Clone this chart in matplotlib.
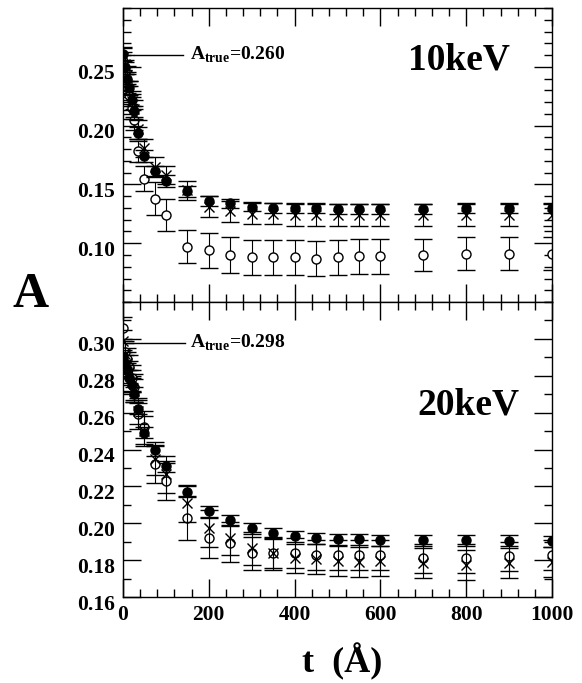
"""
Asymmetry A vs. thickness t for 10 keV and 20 keV.
"""

import matplotlib
matplotlib.use("Agg")
import matplotlib.pyplot as plt
import matplotlib.transforms as mtransforms
from matplotlib.ticker import MultipleLocator, FixedLocator


plt.rcParams["font.family"] = ["Liberation Serif", "DejaVu Serif"]
plt.rcParams["font.weight"] = "bold"
plt.rcParams["mathtext.fontset"] = "custom"
plt.rcParams["mathtext.rm"] = "Liberation Serif:bold"
plt.rcParams["mathtext.bf"] = "Liberation Serif:bold"

# thickness values (Angstrom)
t = [0, 5, 10, 15, 20, 25, 35, 50, 75, 100, 150, 200, 250, 300, 350, 400,
     450, 500, 550, 600, 700, 800, 900, 1000]

# 10 keV
a10_filled = [0.261, 0.250, 0.240, 0.232, 0.222, 0.212, 0.194, 0.174, 0.161,
              0.153, 0.144, 0.136, 0.134, 0.131, 0.130, 0.130, 0.130, 0.129,
              0.129, 0.129, 0.129, 0.130, 0.130, 0.130]
e10_filled = [0.006, 0.006, 0.006, 0.006, 0.005, 0.005, 0.005, 0.005, 0.005,
              0.005, 0.005, 0.004, 0.004, 0.004, 0.004, 0.004, 0.004, 0.004,
              0.004, 0.004, 0.004, 0.004, 0.004, 0.004]
a10_cross = [0.258, 0.252, 0.243, 0.230, 0.221, 0.214, 0.197, 0.181, 0.165,
             0.158, 0.145, 0.131, 0.127, 0.125, 0.125, 0.124, 0.124, 0.124,
             0.124, 0.124, 0.124, 0.124, 0.124, 0.124]
e10_cross = [0.008, 0.008, 0.008, 0.008, 0.008, 0.008, 0.008, 0.008, 0.008,
             0.008, 0.008, 0.009, 0.009, 0.009, 0.009, 0.009, 0.009, 0.009,
             0.009, 0.009, 0.009, 0.009, 0.009, 0.009]
a10_open = [0.255, 0.246, 0.236, 0.226, 0.215, 0.205, 0.178, 0.155, 0.138,
            0.124, 0.097, 0.094, 0.090, 0.088, 0.088, 0.088, 0.087, 0.088,
            0.089, 0.089, 0.090, 0.091, 0.091, 0.091]
e10_open = [0.008, 0.008, 0.008, 0.008, 0.009, 0.009, 0.009, 0.011, 0.014,
            0.014, 0.014, 0.015, 0.015, 0.015, 0.015, 0.015, 0.015, 0.015,
            0.015, 0.015, 0.014, 0.014, 0.014, 0.014]

# 20 keV
a20_filled = [0.290, 0.287, 0.283, 0.279, 0.275, 0.270, 0.262, 0.249, 0.2395,
              0.231, 0.217, 0.2065, 0.2016, 0.1973, 0.1946, 0.193, 0.1919,
              0.1913, 0.1913, 0.1908, 0.1908, 0.1908, 0.1905, 0.1903]
e20_filled = [0.004, 0.004, 0.004, 0.004, 0.004, 0.004, 0.003, 0.003, 0.003,
              0.003, 0.003, 0.003, 0.003, 0.003, 0.003, 0.003, 0.003, 0.003,
              0.003, 0.003, 0.003, 0.003, 0.003, 0.003]
a20_cross = [0.299, 0.292, 0.287, 0.282, 0.277, 0.272, 0.261, 0.250, 0.235,
             0.2265, 0.2108, 0.1973, 0.1919, 0.1865, 0.1838, 0.181, 0.1805,
             0.1795, 0.179, 0.1795, 0.1784, 0.1773, 0.1784, 0.179]
e20_cross = [0.006, 0.006, 0.006, 0.006, 0.006, 0.006, 0.007, 0.008, 0.009,
             0.010, 0.010, 0.010, 0.009, 0.009, 0.009, 0.008, 0.008, 0.008,
             0.008, 0.008, 0.008, 0.008, 0.008, 0.008]
a20_open = [0.306, 0.293, 0.289, 0.285, 0.279, 0.274, 0.259, 0.252, 0.232,
            0.2227, 0.2027, 0.1919, 0.1892, 0.1838, 0.1838, 0.184, 0.1827,
            0.1827, 0.1827, 0.1827, 0.181, 0.181, 0.182, 0.1827]
e20_open = [0.006, 0.006, 0.006, 0.006, 0.007, 0.007, 0.008, 0.009, 0.010,
            0.010, 0.012, 0.011, 0.010, 0.009, 0.008, 0.008, 0.008, 0.008,
            0.008, 0.008, 0.008, 0.008, 0.008, 0.008]

a_true = [0.260, 0.298]
energy_labels = ["10keV", "20keV"]


def plot_series(ax, y, err, marker, face):
    ax.errorbar(t, y, yerr=err, fmt=marker, color="k", mfc=face, mec="k",
                ms=6.5, mew=1.0, elinewidth=0.8, capsize=6.5, capthick=0.9,
                zorder=3 if face == "k" else 2)


def style_axes(ax, ylim, major, minor):
    ax.set_xlim(0, 1000)
    ax.set_ylim(*ylim)
    ax.xaxis.set_major_locator(MultipleLocator(200))
    ax.xaxis.set_minor_locator(MultipleLocator(40))
    ax.yaxis.set_major_locator(FixedLocator(major))
    ax.yaxis.set_minor_locator(MultipleLocator(minor))
    ax.tick_params(which="both", direction="in", top=True, right=True,
                   labelsize=15.5, pad=6, width=1.0)
    ax.tick_params(which="major", length=13)
    ax.tick_params(which="minor", length=6)
    for spine in ax.spines.values():
        spine.set_linewidth(1.0)


fig = plt.figure(figsize=(5.82, 6.83), dpi=100)
ax_top = fig.add_axes([0.2113, 0.5578, 0.7372, 0.4305])
ax_bot = fig.add_axes([0.2113, 0.1259, 0.7372, 0.4319], sharex=ax_top)

# top panel: 10 keV
plot_series(ax_top, a10_open, e10_open, "o", "white")
plot_series(ax_top, a10_cross, e10_cross, "x", "k")
plot_series(ax_top, a10_filled, e10_filled, "o", "k")
style_axes(ax_top, (0.05, 0.30), [0.10, 0.15, 0.20, 0.25], 0.01)
ax_top.tick_params(labelbottom=False)
ax_top.plot([25, 140], [a_true[0] + 0.0003] * 2, color="k", lw=1.0)
ax_top.text(156, a_true[0] + 0.0003, r"A$_{\rm true}$=0.260", fontsize=14,
            va="center", ha="left")
ax_top.text(0.902, 0.822, energy_labels[0], transform=ax_top.transAxes,
            fontsize=27, ha="right", va="center")

# bottom panel: 20 keV
plot_series(ax_bot, a20_open, e20_open, "o", "white")
plot_series(ax_bot, a20_cross, e20_cross, "x", "k")
plot_series(ax_bot, a20_filled, e20_filled, "o", "k")
style_axes(ax_bot, (0.16, 0.32),
           [0.16, 0.18, 0.20, 0.22, 0.24, 0.26, 0.28, 0.30], 0.01)
ax_bot.set_xticks([0, 200, 400, 600, 800, 1000])
ax_bot.plot([9, 145], [a_true[1]] * 2, color="k", lw=1.0)
ax_bot.text(156, a_true[1], r"A$_{\rm true}$=0.298", fontsize=14,
            va="center", ha="left")
ax_bot.text(0.925, 0.651, energy_labels[1], transform=ax_bot.transAxes,
            fontsize=27, ha="right", va="center")

# y tick labels sit a few pixels below their ticks in the original
offset = mtransforms.ScaledTranslation(0, -0.05, fig.dpi_scale_trans)
for ax in (ax_top, ax_bot):
    for lab in ax.get_yticklabels():
        lab.set_transform(lab.get_transform() + offset)

fig.text(0.052, 0.568, "A", fontsize=36, ha="center", va="center")
fig.text(0.588, 0.031, "t  (Å)", fontsize=26, ha="center", va="center")

fig.savefig("out.png", dpi=100)
